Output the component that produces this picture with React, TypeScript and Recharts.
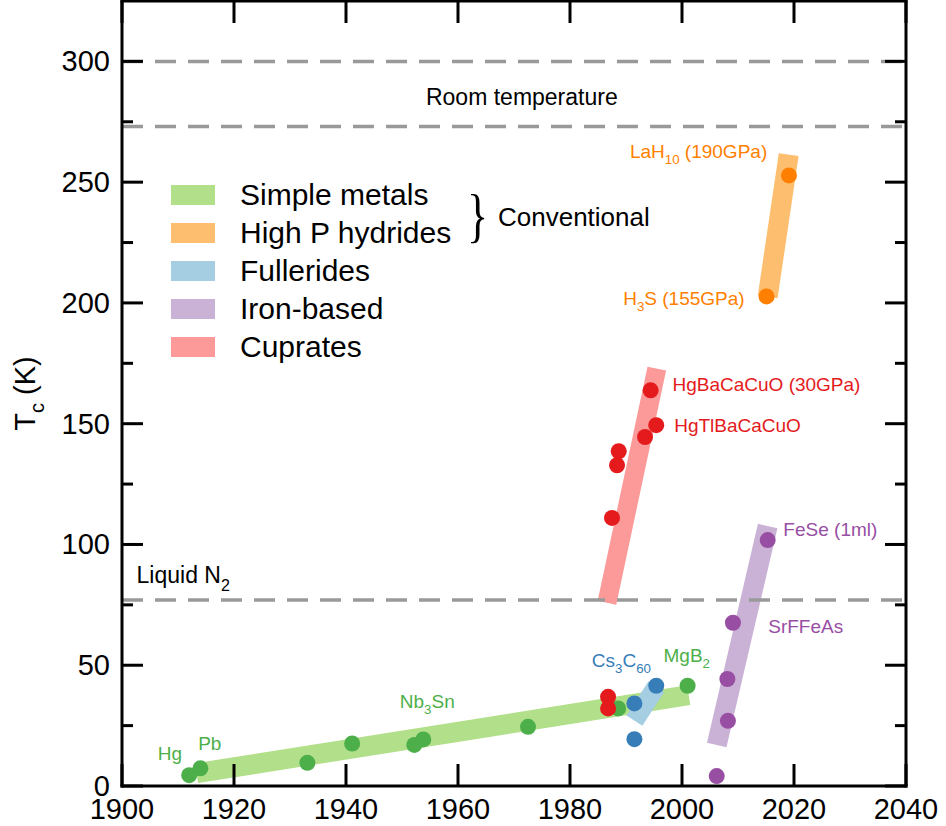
import React from 'react';
import { ComposedChart, Line, Scatter, XAxis, YAxis, ReferenceLine, ReferenceDot, Legend } from 'recharts';

const FONT = '"Liberation Sans", Arial, Helvetica, sans-serif';

// axis ticks
const xTicks = [1900, 1920, 1940, 1960, 1980, 2000, 2020, 2040];
const yTicks = [0, 25, 50, 75, 100, 125, 150, 175, 200, 225, 250, 275, 300];

// discovered superconductors (year, Tc in K)
const simpleMetals = [
  { x: 1912, y: 4.5 },
  { x: 1914, y: 7.3 },
  { x: 1933.1, y: 9.6 },
  { x: 1941.1, y: 17.6 },
  { x: 1952.2, y: 17 },
  { x: 1953.8, y: 19.3 },
  { x: 1972.5, y: 24.5 },
  { x: 1988.6, y: 32.1 },
  { x: 2001, y: 41.5 },
];
const hydrides = [
  { x: 2015.1, y: 202.7 },
  { x: 2019.1, y: 252.8 },
];
const fullerides = [
  { x: 1991.5, y: 34.2 },
  { x: 1995.4, y: 41.5 },
  { x: 1991.5, y: 19.4 },
];
const ironBased = [
  { x: 2006.2, y: 4.1 },
  { x: 2008.2, y: 27 },
  { x: 2008.1, y: 44.3 },
  { x: 2009.1, y: 67.6 },
  { x: 2015.3, y: 101.8 },
];
const cuprates = [
  { x: 1986.8, y: 32.1 },
  { x: 1986.8, y: 36.9 },
  { x: 1987.5, y: 111 },
  { x: 1988.4, y: 132.8 },
  { x: 1988.7, y: 138.6 },
  { x: 1993.4, y: 144.5 },
  { x: 1995.4, y: 149.4 },
  { x: 1994.4, y: 163.8 },
];

// trend bands (start and end of each shaded bar)
const metalsBand = [{ x: 1913.3, y: 5.3 }, { x: 2001.2, y: 37.6 }];
const hydridesBand = [{ x: 2015.3, y: 202.5 }, { x: 2019.05, y: 261.4 }];
const fulleridesBand = [{ x: 1991.5, y: 27.1 }, { x: 1995.4, y: 41.1 }];
const ironBand = [{ x: 2006.2, y: 17 }, { x: 2015.3, y: 107.6 }];
const cupratesBand = [{ x: 1986.6, y: 75.9 }, { x: 1995.5, y: 172.8 }];

const referenceTemps = [300, 273, 77];

const annotations = [
  { text: 'Hg', x: 1906.4, y: 10.8, color: '#4daf4a' },
  { text: 'Pb', x: 1913.6, y: 14.9, color: '#4daf4a' },
  { text: 'Nb_{3}Sn', x: 1949.6, y: 32.3, color: '#4daf4a' },
  { text: 'MgB_{2}', x: 1996.7, y: 51.2, color: '#4daf4a' },
  { text: 'Cs_{3}C_{60}', x: 1983.9, y: 49.4, color: '#377eb8' },
  { text: 'LaH_{10} (190GPa)', x: 1990.7, y: 259.9, color: '#ff7f00' },
  { text: 'H_{3}S (155GPa)', x: 1989.5, y: 199.1, color: '#ff7f00' },
  { text: 'HgBaCaCuO (30GPa)', x: 1998.3, y: 163.7, color: '#e41a1c' },
  { text: 'HgTlBaCaCuO', x: 1998.6, y: 146.7, color: '#e41a1c' },
  { text: 'FeSe (1ml)', x: 2018.1, y: 103.5, color: '#984ea3' },
  { text: 'SrFFeAs', x: 2015.4, y: 63.2, color: '#984ea3' },
];

const lineLabels = [
  { text: 'Room temperature', x: 1971.4, y: 281.9, anchor: 'middle' },
  { text: 'Liquid N_{2}', x: 1902.6, y: 83.9, anchor: 'start' },
];

const legendItems = [
  { name: 'Simple metals', color: '#b2df8a' },
  { name: 'High P hydrides', color: '#fdbf6f' },
  { name: 'Fullerides', color: '#a6cee3' },
  { name: 'Iron-based', color: '#cab2d6' },
  { name: 'Cuprates', color: '#fb9a99' },
];

const renderRich = (text: string, size: number) => {
  const parts = text.split(/_\{([^}]*)\}/);
  const shift = size * 0.32;
  const out: React.ReactNode[] = [];
  let lowered = false;
  parts.forEach((p, i) => {
    if (!p) return;
    const isSub = i % 2 === 1;
    if (isSub) {
      out.push(<tspan key={i} dy={lowered ? 0 : shift} fontSize={size * 0.7}>{p}</tspan>);
      lowered = true;
    } else {
      out.push(<tspan key={i} dy={lowered ? -shift : 0}>{p}</tspan>);
      lowered = false;
    }
  });
  return out;
};

const textLabel = (text: string, color: string, size: number, anchor = 'start') => (props: any) => {
  const { x, y } = props.viewBox;
  return (
    <text x={x} y={y} fill={color} fontSize={size} fontFamily={FONT} textAnchor={anchor}>
      {renderRich(text, size)}
    </text>
  );
};

const dot = (color: string) => (props: any) => <circle cx={props.cx} cy={props.cy} r={8} fill={color} />;

const LeftTick = (props: any) => {
  const { x, y, payload } = props;
  const major = payload.value % 50 === 0;
  return (
    <g>
      <line x1={x} x2={x + (major ? 21 : 11)} y1={y} y2={y} stroke="#000" strokeWidth={3} />
      {major && (
        <text x={x - 12} y={y + 10} textAnchor="end" fontSize={29} fontFamily={FONT} fill="#000">
          {payload.value}
        </text>
      )}
    </g>
  );
};

const RightTick = (props: any) => {
  const { x, y, payload } = props;
  const major = payload.value % 50 === 0;
  return <line x1={x} x2={x - (major ? 21 : 11)} y1={y} y2={y} stroke="#000" strokeWidth={3} />;
};

const BottomTick = (props: any) => {
  const { x, y, payload } = props;
  return (
    <g>
      <line x1={x} x2={x} y1={y} y2={y - 22} stroke="#000" strokeWidth={3} />
      <text x={x} y={y + 33} textAnchor="middle" fontSize={29} fontFamily={FONT} fill="#000">
        {payload.value}
      </text>
    </g>
  );
};

const TopTick = (props: any) => {
  const { x, y } = props;
  return <line x1={x} x2={x} y1={y} y2={y + 22} stroke="#000" strokeWidth={3} />;
};

const TcLabel = (props: any) => {
  const vb = props.viewBox;
  const cx = vb.x + 35;
  const cy = vb.y + vb.height / 2;
  return (
    <text
      x={cx}
      y={cy}
      transform={`rotate(-90, ${cx}, ${cy})`}
      textAnchor="middle"
      fontSize={29}
      fontFamily={FONT}
      fill="#000"
    >
      {renderRich('T_{c} (K)', 29)}
    </text>
  );
};

const LegendBox = () => (
  <div style={{ fontFamily: FONT, position: 'relative', color: '#000' }}>
    {legendItems.map(item => (
      <div key={item.name} style={{ display: 'flex', alignItems: 'center', height: 38 }}>
        <span style={{ display: 'inline-block', width: 44, height: 20, background: item.color, marginRight: 25 }} />
        <span style={{ fontSize: 30, lineHeight: '38px', whiteSpace: 'nowrap' }}>{item.name}</span>
      </div>
    ))}
    <span
      style={{
        position: 'absolute',
        left: 296,
        top: 0,
        fontFamily: '"Liberation Serif", "DejaVu Serif", serif',
        fontSize: 44,
        lineHeight: '80px',
        transform: 'scaleY(1.35)',
        transformOrigin: '50% 50%',
      }}
    >
      {'}'}
    </span>
    <span style={{ position: 'absolute', left: 327, top: 24, fontSize: 26, lineHeight: '34px', whiteSpace: 'nowrap' }}>
      Conventional
    </span>
  </div>
);

const axisLine = { stroke: '#000', strokeWidth: 3, strokeLinecap: 'square' as const };

export default function App() {
  return (
    <div style={{ position: 'absolute', left: 0, top: 0, background: '#fff' }}>
      <ComposedChart width={946} height={826} margin={{ top: 0, right: 0, bottom: 0, left: 0 }}>
        <XAxis
          dataKey="x"
          type="number"
          domain={[1900, 2040]}
          ticks={xTicks}
          interval={0}
          allowDataOverflow
          height={40}
          tickSize={0}
          tickMargin={0}
          tickLine={false}
          axisLine={axisLine}
          tick={BottomTick}
        />
        <XAxis
          xAxisId="top"
          orientation="top"
          dataKey="x"
          type="number"
          domain={[1900, 2040]}
          ticks={xTicks}
          interval={0}
          allowDataOverflow
          height={1}
          tickSize={0}
          tickMargin={0}
          tickLine={false}
          axisLine={axisLine}
          tick={TopTick}
        />
        <YAxis
          dataKey="y"
          type="number"
          domain={[0, 325]}
          ticks={yTicks}
          interval={0}
          allowDataOverflow
          width={122}
          tickSize={0}
          tickMargin={0}
          tickLine={false}
          axisLine={axisLine}
          tick={LeftTick}
          label={TcLabel}
        />
        <YAxis
          yAxisId="right"
          orientation="right"
          dataKey="y"
          type="number"
          domain={[0, 325]}
          ticks={yTicks}
          interval={0}
          allowDataOverflow
          width={40}
          tickSize={0}
          tickMargin={0}
          tickLine={false}
          axisLine={axisLine}
          tick={RightTick}
        />

        <Line data={metalsBand} dataKey="y" stroke="#b2df8a" strokeWidth={20} dot={false} activeDot={false} isAnimationActive={false} type="linear" />
        <Line data={hydridesBand} dataKey="y" stroke="#fdbf6f" strokeWidth={20} dot={false} activeDot={false} isAnimationActive={false} type="linear" />
        <Line data={fulleridesBand} dataKey="y" stroke="#a6cee3" strokeWidth={19} dot={false} activeDot={false} isAnimationActive={false} type="linear" />
        <Line data={ironBand} dataKey="y" stroke="#cab2d6" strokeWidth={20} dot={false} activeDot={false} isAnimationActive={false} type="linear" />
        <Line data={cupratesBand} dataKey="y" stroke="#fb9a99" strokeWidth={19} dot={false} activeDot={false} isAnimationActive={false} type="linear" />

        {referenceTemps.map(t => (
          <ReferenceLine key={t} y={t} stroke="#999" strokeWidth={3.5} strokeDasharray="21 12" />
        ))}

        <Scatter data={simpleMetals} dataKey="y" fill="#4daf4a" shape={dot('#4daf4a')} isAnimationActive={false} />
        <Scatter data={hydrides} dataKey="y" fill="#ff7f00" shape={dot('#ff7f00')} isAnimationActive={false} />
        <Scatter data={fullerides} dataKey="y" fill="#377eb8" shape={dot('#377eb8')} isAnimationActive={false} />
        <Scatter data={ironBased} dataKey="y" fill="#984ea3" shape={dot('#984ea3')} isAnimationActive={false} />
        <Scatter data={cuprates} dataKey="y" fill="#e41a1c" shape={dot('#e41a1c')} isAnimationActive={false} />

        {annotations.map(a => (
          <ReferenceDot key={a.text} x={a.x} y={a.y} r={0} fill="none" stroke="none" label={textLabel(a.text, a.color, 19)} />
        ))}
        {lineLabels.map(a => (
          <ReferenceDot key={a.text} x={a.x} y={a.y} r={0} fill="none" stroke="none" label={textLabel(a.text, '#000', 23, a.anchor)} />
        ))}

        <Legend
          layout="vertical"
          align="center"
          verticalAlign="middle"
          content={LegendBox}
          wrapperStyle={{ position: 'absolute', left: 171, top: 176, width: 520, height: 190 }}
        />
      </ComposedChart>
    </div>
  );
}
